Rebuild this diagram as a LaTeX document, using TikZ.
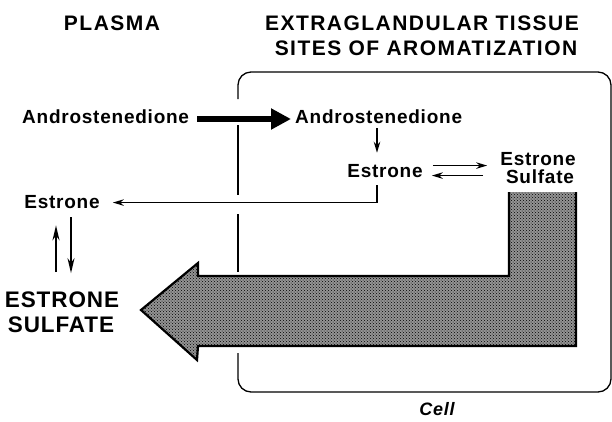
\documentclass[tikz,border=0pt]{standalone}
\usepackage{fontspec}
\usetikzlibrary{arrows.meta,patterns}
\newfontfamily\lblfont[LetterSpace=4]{Liberation Sans}
\newfontfamily\headfontx[LetterSpace=7]{Liberation Sans}
\newfontfamily\bigfontx[LetterSpace=4]{Liberation Sans}
\tikzset{
  lbl/.style={inner sep=0pt, font=\lblfont\bfseries\fontsize{19}{21}\selectfont},
  headlbl/.style={inner sep=0pt, font=\headfontx\bfseries\fontsize{21}{24}\selectfont},
  biglbl/.style={inner sep=0pt, font=\bigfontx\bfseries\fontsize{22.5}{25}\selectfont},
  celllbl/.style={inner sep=0pt, font=\lblfont\bfseries\itshape\fontsize{18}{20}\selectfont},
  thinarrow/.style={line width=1.4pt, -{Stealth[length=11pt,width=6.5pt]}},
  longarrow/.style={line width=1.6pt, -{Stealth[length=15pt,width=7pt]}},
  fatarrow/.style={line width=6pt, -{Triangle[length=20pt,width=20pt]}},
  cellbox/.style={line width=1.3pt, rounded corners=13pt},
  outline/.style={line width=2.2pt, line join=miter},
}
\begin{document}
\begin{tikzpicture}[x=1pt,y=-1pt]
\useasboundingbox (0,0) rectangle (612,421);
% headings
\node[headlbl, anchor=base] (plasma) at (112,30) {PLASMA};
\node[headlbl, anchor=base] (extra) at (422,30) {EXTRAGLANDULAR TISSUE};
\node[headlbl, anchor=base] (sites) at (426,55) {SITES OF AROMATIZATION};
% cell box
\draw[cellbox] (238,99) -- (238,72) -- (611,72) -- (611,392) -- (238,392) -- (238,353);
\draw[line width=1.3pt] (238,125) -- (238,195);
\draw[line width=1.3pt] (238,214) -- (238,272);
% big shaded arrow
\path[fill=black!42] (141,310) -- (198,263) -- (198,276) -- (509,276) -- (509,192) -- (576,192) -- (576,346) -- (198,346) -- (197,360) -- cycle;
\path[pattern=crosshatch dots, pattern color=black] (141,310) -- (198,263) -- (198,276) -- (509,276) -- (509,192) -- (576,192) -- (576,346) -- (198,346) -- (197,360) -- cycle;
\draw[outline] (576,192) -- (576,346) -- (198,346) -- (197,360) -- (141,310) -- (198,263) -- (198,276) -- (509,276) -- (509,192);
% labels
\node[lbl, anchor=base west] (andL) at (22,123) {Androstenedione};
\node[lbl, anchor=base west] (andR) at (295,123) {Androstenedione};
\node[lbl, anchor=base] (estI) at (385,177) {Estrone};
\node[lbl, anchor=base] (esS) at (538,165) {Estrone};
\node[lbl, anchor=base] (sulf) at (540,183) {Sulfate};
\node[lbl, anchor=base] (estL) at (62,208) {Estrone};
\node[biglbl, anchor=base] (ES1) at (62,307) {ESTRONE};
\node[biglbl, anchor=base] (SUL) at (61,332) {SULFATE};
\node[celllbl, anchor=base] (cell) at (437,415) {Cell};
% connectors
\coordinate (dx) at (377,0);
\draw[fatarrow] ([xshift=8pt,yshift=4pt]andL.base east) -- ([xshift=-4pt,yshift=4pt]andR.base west);
\draw[thinarrow] ([yshift=-5pt]andR.south -| dx) -- ([yshift=11pt]estI.north -| dx);
\draw[thinarrow] ([yshift=-8pt]estI.south -| dx) |- ([xshift=13pt,yshift=-1pt]estL.east);
\draw[thinarrow] ([xshift=10pt,yshift=5pt]estI.east) -- ([xshift=-13pt,yshift=5pt]estI.east -| esS.west);
\draw[thinarrow] ([xshift=-17pt,yshift=-5pt]estI.east -| esS.west) -- ([xshift=9pt,yshift=-5pt]estI.east);
\draw[longarrow] ([xshift=-6pt,yshift=19pt]ES1.north) -- ([xshift=-6pt,yshift=-17pt]estL.south);
\draw[longarrow] ([xshift=9pt,yshift=-9pt]estL.south) -- ([xshift=9pt,yshift=18pt]ES1.north);
\end{tikzpicture}
\end{document}
